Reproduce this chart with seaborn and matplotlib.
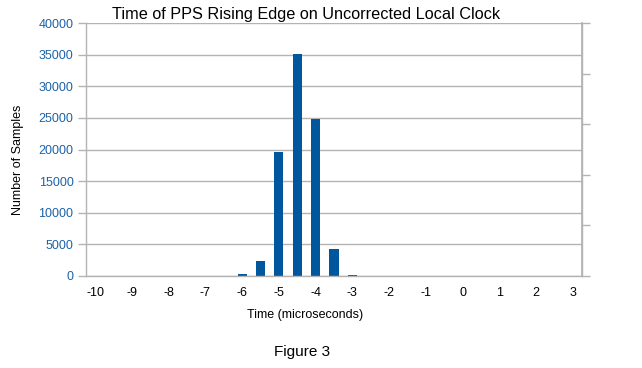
import matplotlib
matplotlib.use("Agg")
import matplotlib.pyplot as plt
import seaborn as sns
import numpy as np
import pandas as pd

sns.set_theme(style="white")
plt.rcParams['font.family'] = ['Liberation Sans', 'DejaVu Sans']

# categories: -10 to 3 in 0.5 microsecond steps
times = [-10, -9.5, -9, -8.5, -8, -7.5, -7, -6.5, -6, -5.5, -5, -4.5, -4, -3.5,
         -3, -2.5, -2, -1.5, -1, -0.5, 0, 0.5, 1, 1.5, 2, 2.5, 3]
counts = [0, 0, 0, 0, 0, 0, 0, 40, 350, 2400, 19600, 35100, 24800, 4300,
          100, 0, 0, 0, 0, 0, 0, 0, 0, 0, 0, 0, 0]
tick_labels = ["-10", "-9", "-8", "-7", "-6", "-5", "-4", "-3", "-2", "-1", "0", "1", "2", "3"]
y_ticks = [0, 5000, 10000, 15000, 20000, 25000, 30000, 35000, 40000]

cat_labels = [f"{t:g}" for t in times]
df = pd.DataFrame({"time": cat_labels, "count": counts})

fig = plt.figure(figsize=(6.42, 3.68), dpi=100)
ax = fig.add_axes([86/642, 1-276/368, (582-86)/642, (276-23)/368])

sns.barplot(data=df, x="time", y="count", order=cat_labels, color="#00579e",
            saturation=1, width=0.5, linewidth=0, edgecolor="none", ax=ax)

grid_c = "#b3b3b3"
n = len(cat_labels)
ax.set_xlim(-0.5, n - 0.5)
ax.set_ylim(0, 40000)
ax.set_yticks(y_ticks)
ax.set_yticklabels([str(v) for v in y_ticks], fontsize=9, color="#1c63a8")
ax.yaxis.grid(True, color=grid_c, linewidth=1)
ax.set_axisbelow(True)

ax.set_xticks(list(range(0, n, 2)))
ax.set_xticklabels(tick_labels, fontsize=9, color="#000000")
ax.set_xticks([i - 0.5 for i in range(n + 1)], minor=True)
ax.tick_params(axis="x", which="major", length=0, pad=8)
ax.tick_params(axis="x", which="minor", length=6, color=grid_c, width=1, direction="out")
ax.tick_params(axis="y", which="major", length=6, color=grid_c, width=1, direction="out", left=True, pad=3)

for s in ["left", "bottom", "right"]:
    ax.spines[s].set_color(grid_c)
    ax.spines[s].set_linewidth(1)
ax.spines["top"].set_visible(False)

ax.set_xlabel("")
ax.set_ylabel("")

ax2 = ax.twinx()
ax2.set_ylim(0, 1)
ax2.set_yticks(np.linspace(0, 1, 6))
ax2.set_yticklabels([])
ax2.tick_params(axis="y", length=6, color=grid_c, width=1, direction="out", right=True)
for s in ["left", "bottom", "top"]:
    ax2.spines[s].set_visible(False)
ax2.spines["right"].set_color(grid_c)
ax2.grid(False)

fig.text(306/642, 1-14/368, "Time of PPS Rising Edge on Uncorrected Local Clock",
         ha="center", va="center", fontsize=11.7, color="#000000")
fig.text(305/642, 1-315/368, "Time (microseconds)", ha="center", va="center",
         fontsize=9, color="#000000")
fig.text(18/642, 1-160/368, "Number of Samples", ha="center", va="center",
         rotation=90, fontsize=9, color="#000000")
fig.text(302/642, 1-352/368, "Figure 3", ha="center", va="center",
         fontsize=11, color="#000000")

fig.savefig("out.png", dpi=100)
